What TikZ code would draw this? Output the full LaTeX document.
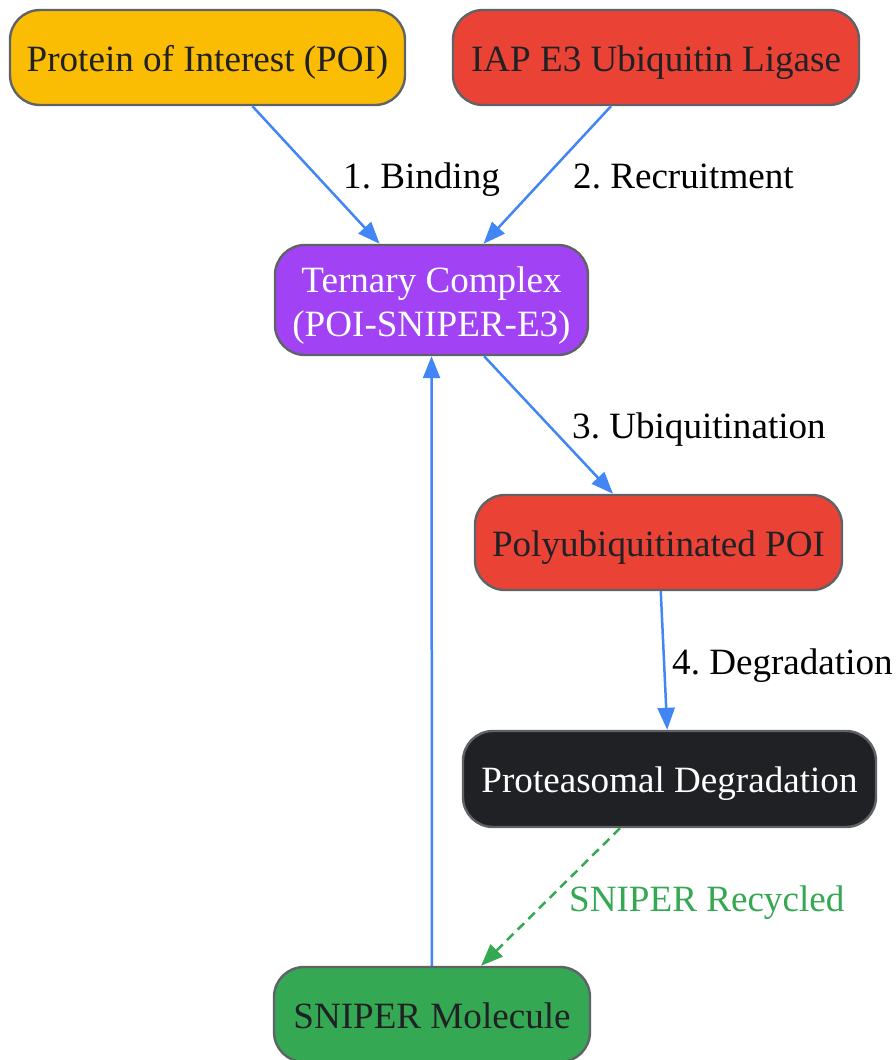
\documentclass[tikz,border=0pt]{standalone}
\usepackage{fontspec}
\setmainfont{Liberation Serif}
\usetikzlibrary{arrows.meta}
\definecolor{cyellow}{HTML}{FBBC04}
\definecolor{cred}{HTML}{EA4335}
\definecolor{cpurple}{HTML}{A142F4}
\definecolor{cdark}{HTML}{202124}
\definecolor{cgreen}{HTML}{34A853}
\definecolor{cblue}{HTML}{4285F4}
\definecolor{cborder}{HTML}{5F6368}
\frenchspacing
\begin{document}
\begin{tikzpicture}[x=1pt,y=-1pt,
  box/.style={draw=cborder, line width=2.4pt, rounded corners=30pt, inner sep=0pt,
    font=\fontsize{37.1}{44}\selectfont, text height=33pt, text depth=6pt, align=center},
  flow/.style={draw=cblue, line width=2.5pt, -{Triangle[length=22pt,width=17pt]}},
  recyc/.style={draw=cgreen, line width=2.5pt, dash pattern=on 9pt off 6pt, -{Triangle[length=22pt,width=17pt]}},
  elabel/.style={font=\fontsize{37.1}{44}\selectfont, anchor=base west, inner sep=0pt}
]
\useasboundingbox (0,0) rectangle (895,1060);
\node[box, fill=cyellow, text=cdark, minimum width=395pt, minimum height=95pt] (poi) at (207.5,57.5) {Protein of Interest (POI)};
\node[box, fill=cred, text=cdark, minimum width=406pt, minimum height=95pt] (iap) at (656,57.5) {IAP E3 Ubiquitin Ligase};
\node[box, fill=cpurple, text=white, minimum width=313pt, minimum height=110pt, text height=, text depth=] (tern) at (431.5,300) {\rule{0pt}{0.98em}Ternary Complex\\(POI-SNIPER-E3)};
\node[box, fill=cred, text=cdark, minimum width=367pt, minimum height=95pt] (poly) at (658.5,542.5) {Polyubiquitinated POI};
\node[box, fill=cdark, text=white, minimum width=413pt, minimum height=96pt] (prot) at (669.5,779) {Proteasomal Degradation};
\node[box, fill=cgreen, text=cdark, minimum width=316pt, minimum height=95pt] (sniper) at (432,1014.5) {SNIPER Molecule};

\draw[flow] (poi) -- (tern);
\draw[flow] (iap) -- (tern);
\draw[flow] (tern) -- (poly);
\draw[flow] (poly) -- (prot);
\draw[recyc] (prot) -- (sniper);
\draw[flow] (sniper) -- (tern);

\node[elabel] (l1) at (343,188) {1. Binding};
\node[elabel] (l2) at (573,188) {2. Recruitment};
\node[elabel] (l3) at (572,438) {3. Ubiquitination};
\node[elabel] (l4) at (672,674) {4. Degradation};
\node[elabel, text=cgreen] (l5) at (569,911) {SNIPER Recycled};
\end{tikzpicture}
\end{document}
